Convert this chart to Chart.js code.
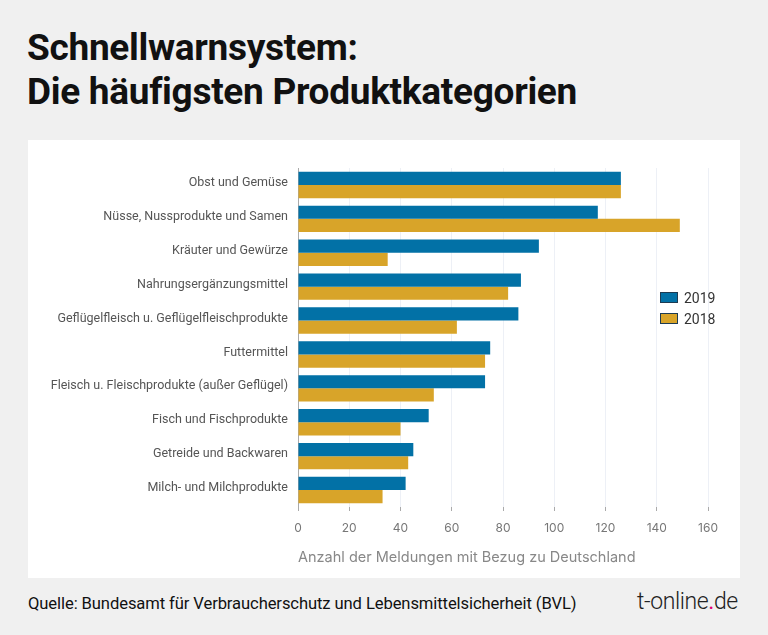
<!DOCTYPE html>
<html><head><meta charset="utf-8">
<script src="https://cdn.jsdelivr.net/npm/chart.js@4"></script>
<style>
html,body{margin:0;padding:0;}
body{width:768px;height:635px;background:#f0f0f0;position:relative;overflow:hidden;font-family:Roboto,sans-serif;}
#title{position:absolute;left:27px;top:26px;font-weight:700;font-size:37px;line-height:44px;color:#111;letter-spacing:-0.3px;}
#panel{position:absolute;left:28px;top:140px;width:712px;height:438px;background:#fff;}
#legend{position:absolute;left:660px;top:287px;font-size:14px;color:#333;}
#legend div{height:21px;display:flex;align-items:center;}
#legend span.b{display:inline-block;width:16px;height:9px;margin-right:6px;border:1px solid #1d3b52;}
#source{position:absolute;left:28px;top:594px;font-size:16.6px;color:#111;letter-spacing:-0.1px;}
#logo{position:absolute;left:637px;top:588px;font-size:23px;color:#222;font-weight:300;letter-spacing:-0.4px;}
#logo b{color:#e20074;font-weight:400;}
</style></head>
<body>
<div id="title">Schnellwarnsystem:<br>Die häufigsten Produktkategorien</div>
<div id="panel"><canvas id="c" width="712" height="438"></canvas></div>
<div id="legend"></div>
<div id="source">Quelle: Bundesamt für Verbraucherschutz und Lebensmittelsicherheit (BVL)</div>
<div id="logo">t-online<b>.</b>de</div>
<script>
const categories = ["Obst und Gemüse","Nüsse, Nussprodukte und Samen","Kräuter und Gewürze","Nahrungsergänzungsmittel","Geflügelfleisch u. Geflügelfleischprodukte","Futtermittel","Fleisch u. Fleischprodukte (außer Geflügel)","Fisch und Fischprodukte","Getreide und Backwaren","Milch- und Milchprodukte"];
const seriesNames = ["2019","2018"];
const values2019 = [126,117,94,87,86,75,73,51,45,42];
const values2018 = [126,149,35,82,62,73,53,40,43,33];
const colors = ["#0271a6","#d8a429"];
const xTitle = "Anzahl der Meldungen mit Bezug zu Deutschland";

const leg = document.getElementById('legend');
seriesNames.forEach((n,i)=>{
  const d=document.createElement('div');
  d.innerHTML='<span class="b" style="background:'+colors[i]+'"></span>'+n;
  leg.appendChild(d);
});

new Chart(document.getElementById('c'),{
  type:'bar',
  data:{labels:categories,datasets:[
    {label:seriesNames[0],data:values2019,backgroundColor:colors[0],categoryPercentage:0.78,barPercentage:1.0},
    {label:seriesNames[1],data:values2018,backgroundColor:colors[1],categoryPercentage:0.78,barPercentage:1.0}
  ]},
  options:{
    indexAxis:'y',responsive:false,animation:false,
    layout:{padding:{left:0,right:32,top:28,bottom:0}},
    plugins:{legend:{display:false},tooltip:{enabled:false}},
    scales:{
      x:{min:0,max:160,
        ticks:{stepSize:20,color:'#777',font:{family:'Inter',size:12},padding:10},
        grid:{color:'#edf0f6',drawTicks:true,tickLength:4,tickColor:'#aaa'},
        border:{display:false},
        title:{display:true,text:xTitle,align:'start',color:'#888',font:{family:'Inter',size:14.5},padding:{top:6,bottom:12}},
        afterFit(s){s.height=71;}
      },
      y:{
        ticks:{color:'#555',font:{family:'Roboto',size:12.5},padding:10,labelOffset:-2},
        grid:{display:false,drawTicks:false},
        border:{display:true,color:'#aaa',width:1},
        afterFit(s){s.width=270;}
      }
    }
  }
});
</script>
</body></html>
